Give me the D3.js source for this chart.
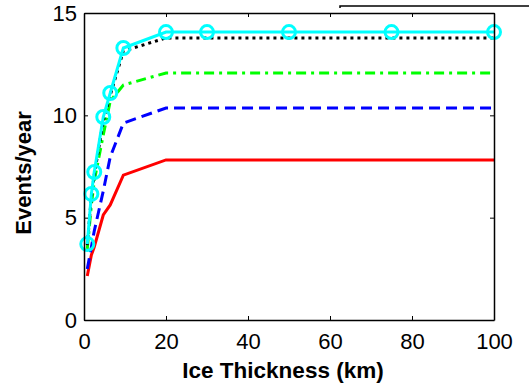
<!DOCTYPE html>
<html>
<head>
<meta charset="utf-8">
<script src="https://cdn.jsdelivr.net/npm/d3@7"></script>
<style>
  body { margin: 0; background: #fff; }
  text { font-family: "Liberation Sans", Arial, sans-serif; }
</style>
</head>
<body>
<div id="chart"></div>
<script>
// ice thickness (km) sample points shared by every curve
var thickness = [0.8, 1.8, 2.5, 4.7, 6.4, 9.6, 20, 30, 50, 75, 100];

var redValues   = [2.15, 3.18, 3.57, 5.13, 5.62, 7.08, 7.82, 7.82, 7.82, 7.82, 7.82];
var blueValues  = [2.49, 3.57, 4.35, 6.3, 7.97, 9.62, 10.36, 10.36, 10.36, 10.36, 10.36];
var greenValues = [3.47, 5.62, 6.79, 9.04, 10.7, 11.48, 12.07, 12.07, 12.07, 12.07, 12.07];
var blackValues = [3.66, 6.01, 7.08, 9.72, 10.99, 13.14, 13.78, 13.78, 13.78, 13.78, 13.78];
var cyanValues  = [3.71, 6.16, 7.23, 9.92, 11.09, 13.29, 14.07, 14.07, 14.07, 14.07, 14.07];

var xTicks = [0, 20, 40, 60, 80, 100];
var yTicks = [0, 5, 10, 15];

var width = 529, height = 386;
var plotLeft = 84, plotRight = 494, plotTop = 13, plotBottom = 320;

var svg = d3.select("#chart").append("svg")
    .attr("width", width)
    .attr("height", height);

var x = d3.scaleLinear().domain([0, 100]).range([plotLeft, plotRight]);
var y = d3.scaleLinear().domain([0, 15]).range([plotBottom, plotTop]);

var line = d3.line()
    .x(function(d) { return x(d[0]); })
    .y(function(d) { return y(d[1]); });

function pairs(values) {
    return thickness.map(function(t, i) { return [t, values[i]]; });
}

var series = [
    { values: redValues, color: "#ff0000", dash: null },
    { values: blueValues, color: "#0000ff", dash: "11,6" },
    { values: greenValues, color: "#00ff00", dash: "10,5,3,5" },
    { values: blackValues, color: "#000000", dash: "3,4" },
    { values: cyanValues, color: "#00ffff", dash: null }
];

series.forEach(function(s) {
    svg.append("path")
        .datum(pairs(s.values))
        .attr("d", line)
        .attr("fill", "none")
        .attr("stroke", s.color)
        .attr("stroke-width", 3)
        .attr("stroke-dasharray", s.dash);
});

// cyan circle markers
svg.selectAll("circle.marker")
    .data(pairs(cyanValues))
    .enter()
    .append("circle")
    .attr("class", "marker")
    .attr("cx", function(d) { return x(d[0]); })
    .attr("cy", function(d) { return y(d[1]); })
    .attr("r", 6.5)
    .attr("fill", "none")
    .attr("stroke", "#00ffff")
    .attr("stroke-width", 3);

// axes: bottom/left with labels, top/right as box with inward ticks
svg.append("g")
    .attr("transform", "translate(0," + plotBottom + ")")
    .call(d3.axisBottom(x).tickValues(xTicks).tickSizeInner(-4).tickSizeOuter(0).tickPadding(13))
    .call(function(g) {
        g.select(".domain").attr("stroke-width", 1.5);
        g.selectAll("text").attr("font-size", 22).attr("fill", "#000");
    });

svg.append("g")
    .attr("transform", "translate(" + plotLeft + ",0)")
    .call(d3.axisLeft(y).tickValues(yTicks).tickSizeInner(-4).tickSizeOuter(0).tickPadding(7))
    .call(function(g) {
        g.select(".domain").attr("stroke-width", 1.5);
        g.selectAll("text").attr("font-size", 22).attr("fill", "#000");
    });

svg.append("g")
    .attr("transform", "translate(0," + plotTop + ")")
    .call(d3.axisTop(x).tickValues(xTicks).tickSizeInner(-4).tickSizeOuter(0).tickFormat(""))
    .select(".domain").attr("stroke-width", 1.5);

svg.append("g")
    .attr("transform", "translate(" + plotRight + ",0)")
    .call(d3.axisRight(y).tickValues(yTicks).tickSizeInner(-4).tickSizeOuter(0).tickFormat(""))
    .select(".domain").attr("stroke-width", 1.5);

// axis titles
svg.append("text")
    .attr("x", 283)
    .attr("y", 378)
    .attr("text-anchor", "middle")
    .attr("font-size", 22.5)
    .attr("font-weight", "bold")
    .text("Ice Thickness (km)");

svg.append("text")
    .attr("transform", "translate(31,173) rotate(-90)")
    .attr("text-anchor", "middle")
    .attr("font-size", 22)
    .attr("font-weight", "bold")
    .text("Events/year");

// edge of a legend box sitting above the axes
svg.append("path")
    .attr("d", "M340,8V6H529")
    .attr("fill", "none")
    .attr("stroke", "#000")
    .attr("stroke-width", 1.5);
</script>
</body>
</html>
